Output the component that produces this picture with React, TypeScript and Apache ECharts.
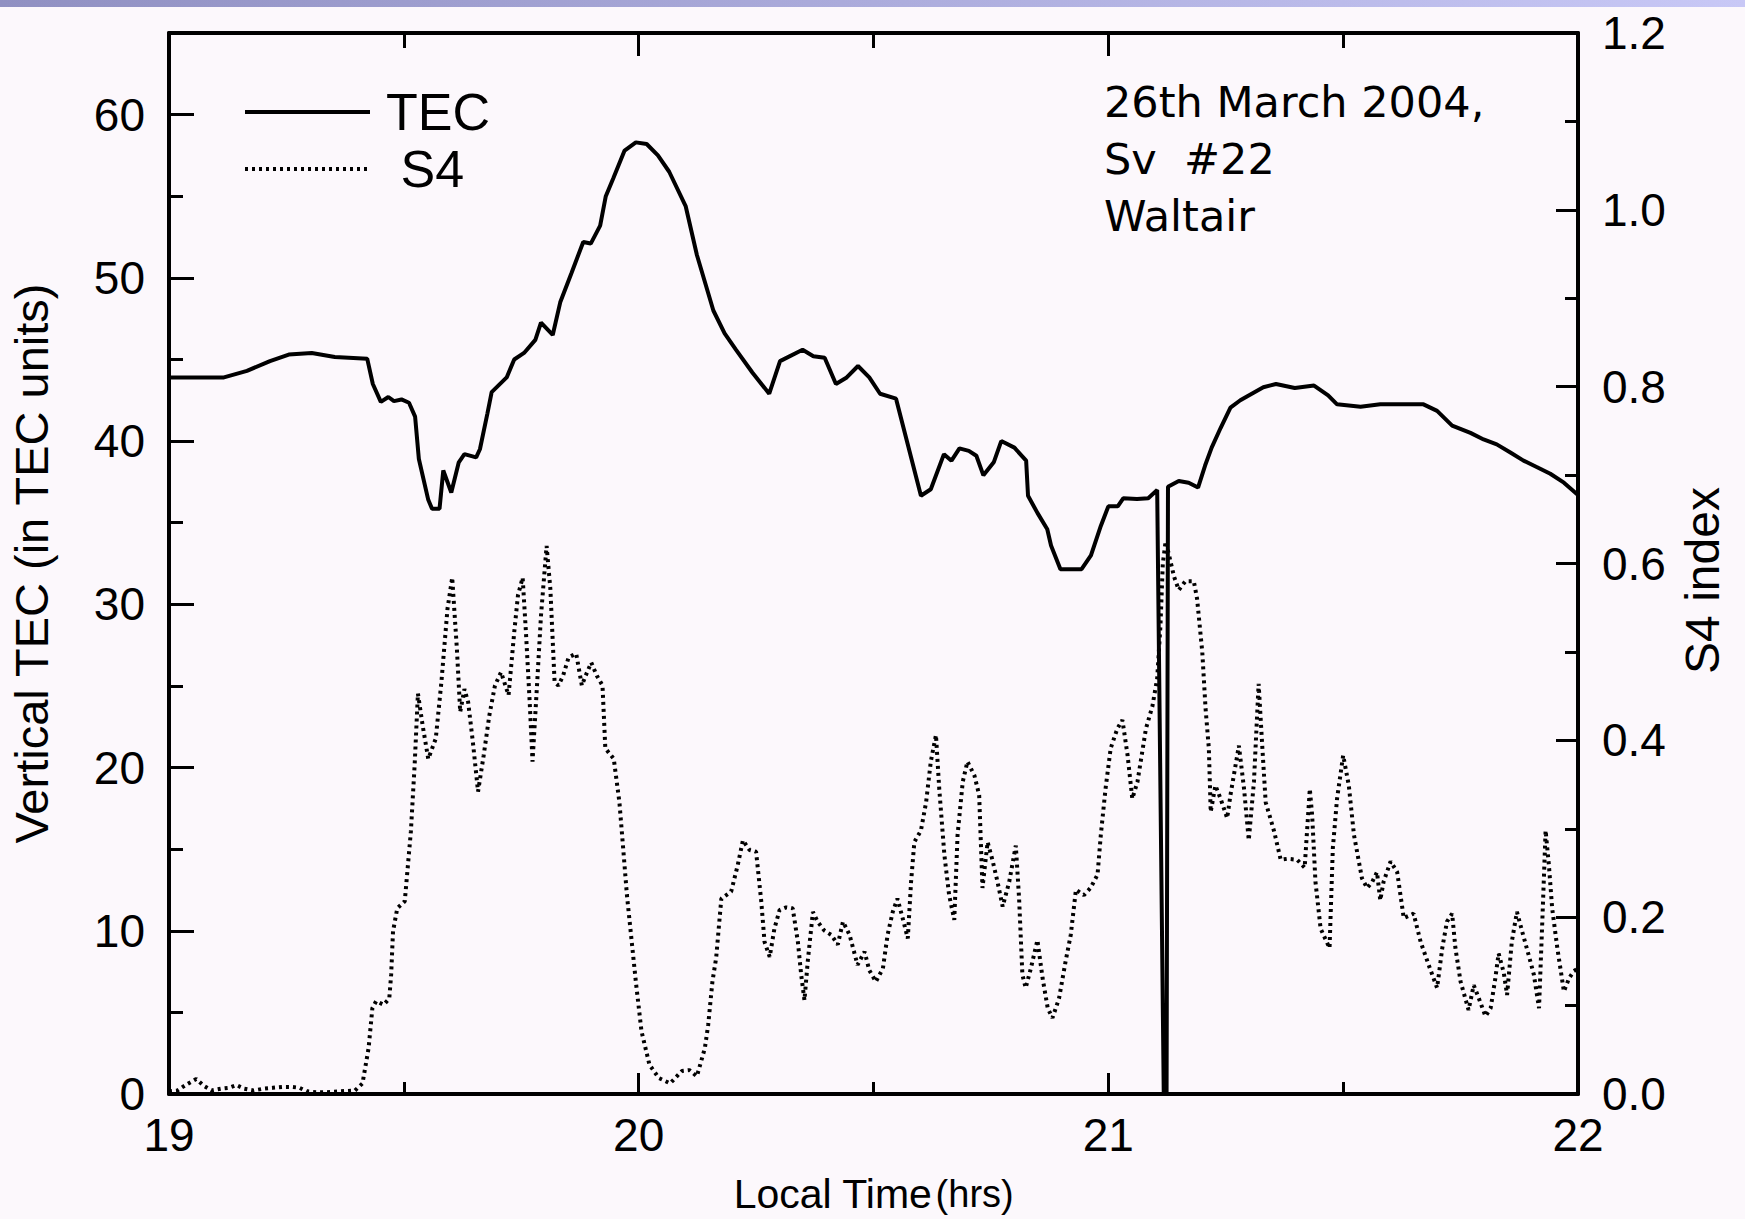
import React, { useEffect, useRef } from 'react';
import * as echarts from 'echarts';

// Local time (hrs) vs vertical TEC (TEC units)
const tecData: [number, number][] = [
  [19.0, 43.9], [19.117, 43.9], [19.166, 44.3], [19.215, 44.9], [19.255, 45.3], [19.304, 45.4],
  [19.353, 45.15], [19.422, 45.05], [19.434, 43.5], [19.451, 42.4], [19.467, 42.7], [19.479, 42.45],
  [19.495, 42.55], [19.511, 42.35], [19.524, 41.5], [19.532, 38.9], [19.552, 36.4], [19.56, 35.85],
  [19.576, 35.85], [19.584, 38.2], [19.601, 36.85], [19.617, 38.7], [19.629, 39.2], [19.654, 39.0],
  [19.662, 39.5], [19.678, 41.7], [19.687, 43.0], [19.719, 43.9], [19.735, 45.0], [19.756, 45.4],
  [19.78, 46.2], [19.792, 47.25], [19.817, 46.5], [19.833, 48.5], [19.857, 50.3], [19.882, 52.2],
  [19.898, 52.1], [19.918, 53.2], [19.93, 55.0], [19.946, 56.1], [19.97, 57.8], [19.994, 58.3],
  [20.017, 58.2], [20.041, 57.5], [20.065, 56.5], [20.1, 54.4], [20.124, 51.4], [20.159, 48.0],
  [20.183, 46.6], [20.207, 45.6], [20.242, 44.2], [20.278, 42.9], [20.301, 44.9], [20.349, 45.6],
  [20.372, 45.2], [20.396, 45.1], [20.42, 43.5], [20.443, 43.9], [20.467, 44.6], [20.491, 43.9],
  [20.514, 42.9], [20.548, 42.6], [20.601, 36.65], [20.622, 37.05], [20.65, 39.2], [20.666, 38.8],
  [20.683, 39.55], [20.703, 39.4], [20.719, 39.1], [20.734, 37.9], [20.756, 38.7], [20.772, 40.0],
  [20.8, 39.6], [20.825, 38.8], [20.829, 36.65], [20.849, 35.6], [20.87, 34.6], [20.878, 33.6],
  [20.898, 32.15], [20.943, 32.15], [20.963, 33.0], [20.984, 34.8], [21.0, 36.0], [21.02, 36.0],
  [21.032, 36.5], [21.061, 36.45], [21.085, 36.5], [21.104, 37.0], [21.118, 0.0], [21.124, 0.0],
  [21.127, 37.2], [21.15, 37.55], [21.171, 37.45], [21.191, 37.15], [21.206, 38.5], [21.22, 39.6],
  [21.239, 40.8], [21.26, 42.05], [21.281, 42.5], [21.296, 42.75], [21.33, 43.3], [21.357, 43.5],
  [21.397, 43.25], [21.438, 43.4], [21.468, 42.8], [21.487, 42.25], [21.537, 42.1], [21.579, 42.25],
  [21.671, 42.25], [21.7, 41.85], [21.732, 40.95], [21.771, 40.5], [21.799, 40.1], [21.827, 39.8],
  [21.856, 39.3], [21.884, 38.8], [21.913, 38.4], [21.941, 38.0], [21.97, 37.45], [22.0, 36.7]
];

// Local time (hrs) vs S4 index
const s4Data: [number, number][] = [
  [19.0, 0.003], [19.018, 0.004], [19.038, 0.011], [19.058, 0.017], [19.075, 0.009], [19.091, 0.004],
  [19.111, 0.006], [19.128, 0.007], [19.144, 0.01], [19.16, 0.006], [19.18, 0.004], [19.201, 0.006],
  [19.221, 0.007], [19.242, 0.008], [19.262, 0.008], [19.278, 0.007], [19.294, 0.003], [19.315, 0.002],
  [19.335, 0.002], [19.364, 0.003], [19.396, 0.004], [19.412, 0.012], [19.425, 0.052], [19.433, 0.097],
  [19.441, 0.105], [19.457, 0.101], [19.469, 0.108], [19.473, 0.135], [19.477, 0.184], [19.486, 0.21],
  [19.502, 0.218], [19.515, 0.297], [19.523, 0.372], [19.53, 0.453], [19.54, 0.417], [19.552, 0.379],
  [19.568, 0.402], [19.58, 0.466], [19.593, 0.549], [19.603, 0.584], [19.613, 0.503], [19.62, 0.432],
  [19.629, 0.458], [19.637, 0.443], [19.647, 0.398], [19.658, 0.342], [19.67, 0.383], [19.682, 0.428],
  [19.694, 0.462], [19.707, 0.477], [19.723, 0.451], [19.735, 0.522], [19.743, 0.564], [19.753, 0.584],
  [19.76, 0.522], [19.768, 0.443], [19.774, 0.376], [19.784, 0.466], [19.792, 0.541], [19.804, 0.62],
  [19.812, 0.571], [19.821, 0.466], [19.829, 0.462], [19.839, 0.473], [19.851, 0.494], [19.867, 0.498],
  [19.879, 0.462], [19.887, 0.473], [19.899, 0.488], [19.911, 0.473], [19.923, 0.462], [19.929, 0.391],
  [19.947, 0.379], [19.959, 0.33], [19.967, 0.278], [19.975, 0.225], [19.994, 0.127], [20.006, 0.071],
  [20.023, 0.033], [20.043, 0.018], [20.067, 0.012], [20.092, 0.026], [20.108, 0.027], [20.124, 0.02],
  [20.141, 0.052], [20.148, 0.078], [20.157, 0.127], [20.165, 0.154], [20.176, 0.221], [20.197, 0.229],
  [20.211, 0.259], [20.222, 0.287], [20.236, 0.276], [20.25, 0.274], [20.261, 0.218], [20.268, 0.172],
  [20.279, 0.155], [20.289, 0.187], [20.3, 0.208], [20.314, 0.211], [20.328, 0.21], [20.339, 0.172],
  [20.346, 0.135], [20.353, 0.106], [20.36, 0.15], [20.371, 0.206], [20.381, 0.195], [20.395, 0.185],
  [20.41, 0.18], [20.424, 0.169], [20.435, 0.195], [20.449, 0.18], [20.466, 0.146], [20.481, 0.161],
  [20.491, 0.14], [20.505, 0.127], [20.52, 0.142], [20.53, 0.18], [20.541, 0.206], [20.551, 0.221],
  [20.562, 0.199], [20.573, 0.176], [20.58, 0.24], [20.587, 0.285], [20.601, 0.298], [20.612, 0.33],
  [20.622, 0.376], [20.633, 0.406], [20.64, 0.345], [20.651, 0.27], [20.661, 0.225], [20.672, 0.197],
  [20.679, 0.293], [20.69, 0.353], [20.7, 0.376], [20.715, 0.36], [20.725, 0.338], [20.732, 0.233],
  [20.743, 0.285], [20.754, 0.263], [20.764, 0.24], [20.775, 0.212], [20.789, 0.24], [20.803, 0.281],
  [20.81, 0.221], [20.817, 0.135], [20.824, 0.12], [20.835, 0.142], [20.849, 0.174], [20.86, 0.131],
  [20.871, 0.097], [20.881, 0.086], [20.895, 0.108], [20.909, 0.15], [20.92, 0.18], [20.931, 0.231],
  [20.948, 0.225], [20.962, 0.233], [20.977, 0.248], [20.984, 0.293], [20.994, 0.345], [21.005, 0.391],
  [21.019, 0.413], [21.03, 0.423], [21.041, 0.383], [21.051, 0.334], [21.062, 0.353], [21.08, 0.413],
  [21.094, 0.439], [21.104, 0.47], [21.111, 0.53], [21.116, 0.6], [21.122, 0.625], [21.129, 0.61],
  [21.14, 0.585], [21.15, 0.57], [21.164, 0.58], [21.182, 0.58], [21.189, 0.56], [21.2, 0.5],
  [21.207, 0.436], [21.214, 0.391], [21.218, 0.319], [21.228, 0.349], [21.239, 0.334], [21.253, 0.312],
  [21.26, 0.338], [21.278, 0.394], [21.289, 0.345], [21.299, 0.287], [21.31, 0.353], [21.32, 0.464],
  [21.328, 0.391], [21.335, 0.33], [21.353, 0.297], [21.367, 0.265], [21.381, 0.266], [21.402, 0.265],
  [21.418, 0.256], [21.429, 0.345], [21.434, 0.315], [21.441, 0.24], [21.452, 0.187], [21.471, 0.165],
  [21.478, 0.278], [21.487, 0.334], [21.5, 0.383], [21.512, 0.349], [21.523, 0.293], [21.54, 0.244],
  [21.551, 0.233], [21.562, 0.24], [21.572, 0.251], [21.579, 0.219], [21.586, 0.24], [21.601, 0.263],
  [21.615, 0.251], [21.629, 0.199], [21.65, 0.204], [21.665, 0.172], [21.682, 0.146], [21.7, 0.12],
  [21.711, 0.165], [21.721, 0.195], [21.732, 0.204], [21.739, 0.165], [21.75, 0.127], [21.767, 0.095],
  [21.778, 0.123], [21.789, 0.108], [21.803, 0.088], [21.814, 0.097], [21.824, 0.131], [21.831, 0.159],
  [21.842, 0.137], [21.849, 0.112], [21.859, 0.172], [21.87, 0.206], [21.881, 0.184], [21.895, 0.157],
  [21.906, 0.135], [21.917, 0.097], [21.924, 0.195], [21.931, 0.298], [21.938, 0.259], [21.945, 0.21],
  [21.956, 0.165], [21.97, 0.116], [21.981, 0.131], [21.991, 0.139], [22.0, 0.142]
];

const seriesNames = ['TEC', 'S4'];
const annotationLines = ['26th March 2004,', 'Sv  #22', 'Waltair'];
const xAxisTitle = 'Local Time';
const xAxisUnit = '(hrs)';
const leftAxisTitle = 'Vertical TEC (in TEC units)';
const rightAxisTitle = 'S4 index';

const FONT = '"Liberation Sans", Arial, Helvetica, sans-serif';
const WIDE_FONT = '"DejaVu Sans", "Liberation Sans", sans-serif';
const INK = '#000000';

export default function App() {
  const ref = useRef<HTMLDivElement>(null);

  useEffect(() => {
    if (!ref.current) return;
    const chart = echarts.init(ref.current, undefined, { renderer: 'svg' });

    const axisLine = { show: true, onZero: false, lineStyle: { color: INK, width: 4 } };
    const tickStyle = { color: INK, width: 3 };

    const option: any = {
      animation: false,
      backgroundColor: '#fcf8fc',
      textStyle: { fontFamily: FONT, color: INK },
      grid: { left: 167, right: 167, top: 33, bottom: 123, containLabel: false },
      legend: {
        show: true,
        orient: 'vertical',
        left: 243,
        top: 86,
        padding: 0,
        itemWidth: 125,
        itemHeight: 20,
        itemGap: 5,
        selectedMode: false,
        itemStyle: { opacity: 0 },
        data: [
          { name: seriesNames[0], lineStyle: { width: 4, type: 'solid', color: INK } },
          { name: seriesNames[1], lineStyle: { width: 4, type: [3, 4], color: INK } }
        ],
        formatter: (n: string) => (n === 'S4' ? ' S4' : n),
        textStyle: { fontSize: 52, fontFamily: FONT, color: INK, padding: [0, 0, 0, 11] }
      },
      xAxis: [
        {
          type: 'value', position: 'bottom', min: 19, max: 22, interval: 1,
          axisLine, splitLine: { show: false },
          axisTick: { show: true, inside: true, length: 21, lineStyle: tickStyle },
          minorTick: { show: true, splitNumber: 2, length: 12, lineStyle: tickStyle },
          axisLabel: { show: true, fontSize: 46, color: INK, fontFamily: FONT, margin: 18 },
          name: `{a|${xAxisTitle}} {b|${xAxisUnit}}`,
          nameLocation: 'middle', nameGap: 79,
          nameTextStyle: {
            rich: {
              a: { fontSize: 41, fontFamily: FONT, color: INK },
              b: { fontSize: 38, fontFamily: FONT, color: INK }
            }
          }
        },
        {
          type: 'value', position: 'top', min: 19, max: 22, interval: 1,
          axisLine, splitLine: { show: false },
          axisTick: { show: true, inside: true, length: 23, lineStyle: tickStyle },
          minorTick: { show: true, splitNumber: 2, length: 15, lineStyle: tickStyle },
          axisLabel: { show: false }
        }
      ],
      yAxis: [
        {
          type: 'value', position: 'left', min: 0, max: 65, interval: 10,
          axisLine, splitLine: { show: false },
          axisTick: { show: true, inside: true, length: 25, lineStyle: tickStyle },
          axisLabel: { show: true, fontSize: 46, color: INK, fontFamily: FONT, margin: 24, showMaxLabel: false },
          name: leftAxisTitle, nameLocation: 'middle', nameGap: 114, nameRotate: 90,
          nameTextStyle: { fontSize: 47, fontFamily: FONT, color: INK }
        },
        {
          type: 'value', position: 'right', min: 0, max: 1.2, interval: 0.2,
          axisLine, splitLine: { show: false },
          axisTick: { show: true, inside: true, length: 22, lineStyle: tickStyle },
          minorTick: { show: true, splitNumber: 2, length: 13, lineStyle: tickStyle },
          axisLabel: {
            show: true, fontSize: 46, color: INK, fontFamily: FONT, margin: 24,
            formatter: (v: number) => v.toFixed(1)
          },
          name: rightAxisTitle, nameLocation: 'middle', nameGap: 100, nameRotate: 90,
          nameTextStyle: { fontSize: 48, fontFamily: FONT, color: INK, padding: [0, 34, 0, 0] }
        },
        {
          // minor ticks of the TEC axis (every 5 units)
          type: 'value', position: 'left', min: 0, max: 65, interval: 5,
          axisLine: { show: false }, splitLine: { show: false },
          axisTick: { show: true, inside: true, length: 14, lineStyle: tickStyle },
          axisLabel: { show: false }
        }
      ],
      series: [
        {
          name: 'TEC', type: 'line', xAxisIndex: 0, yAxisIndex: 0, data: tecData,
          symbol: 'none', z: 3,
          itemStyle: { color: INK },
          lineStyle: { color: INK, width: 4, type: 'solid' }
        },
        {
          name: 'S4', type: 'line', xAxisIndex: 0, yAxisIndex: 1, data: s4Data,
          symbol: 'none', z: 2,
          itemStyle: { color: INK },
          lineStyle: { color: INK, width: 4, type: [3, 4] }
        }
      ],
      graphic: [
        {
          type: 'rect', left: 0, top: 0, silent: true, z: 10,
          shape: { width: 1745, height: 7 },
          style: {
            fill: new echarts.graphic.LinearGradient(0, 0, 1, 0, [
              { offset: 0, color: '#9090c2' },
              { offset: 1, color: '#c8c8f6' }
            ])
          }
        },
        {
          type: 'text', left: 1104, top: 73, silent: true, z: 10,
          style: {
            text: annotationLines.join('\n'),
            fontSize: 43, fontFamily: WIDE_FONT, fill: INK, lineHeight: 57
          }
        }
      ]
    };

    chart.setOption(option);
    return () => chart.dispose();
  }, []);

  return (
    <div
      ref={ref}
      style={{ position: 'absolute', left: 0, top: 0, width: '1745px', height: '1219px' }}
    />
  );
}
